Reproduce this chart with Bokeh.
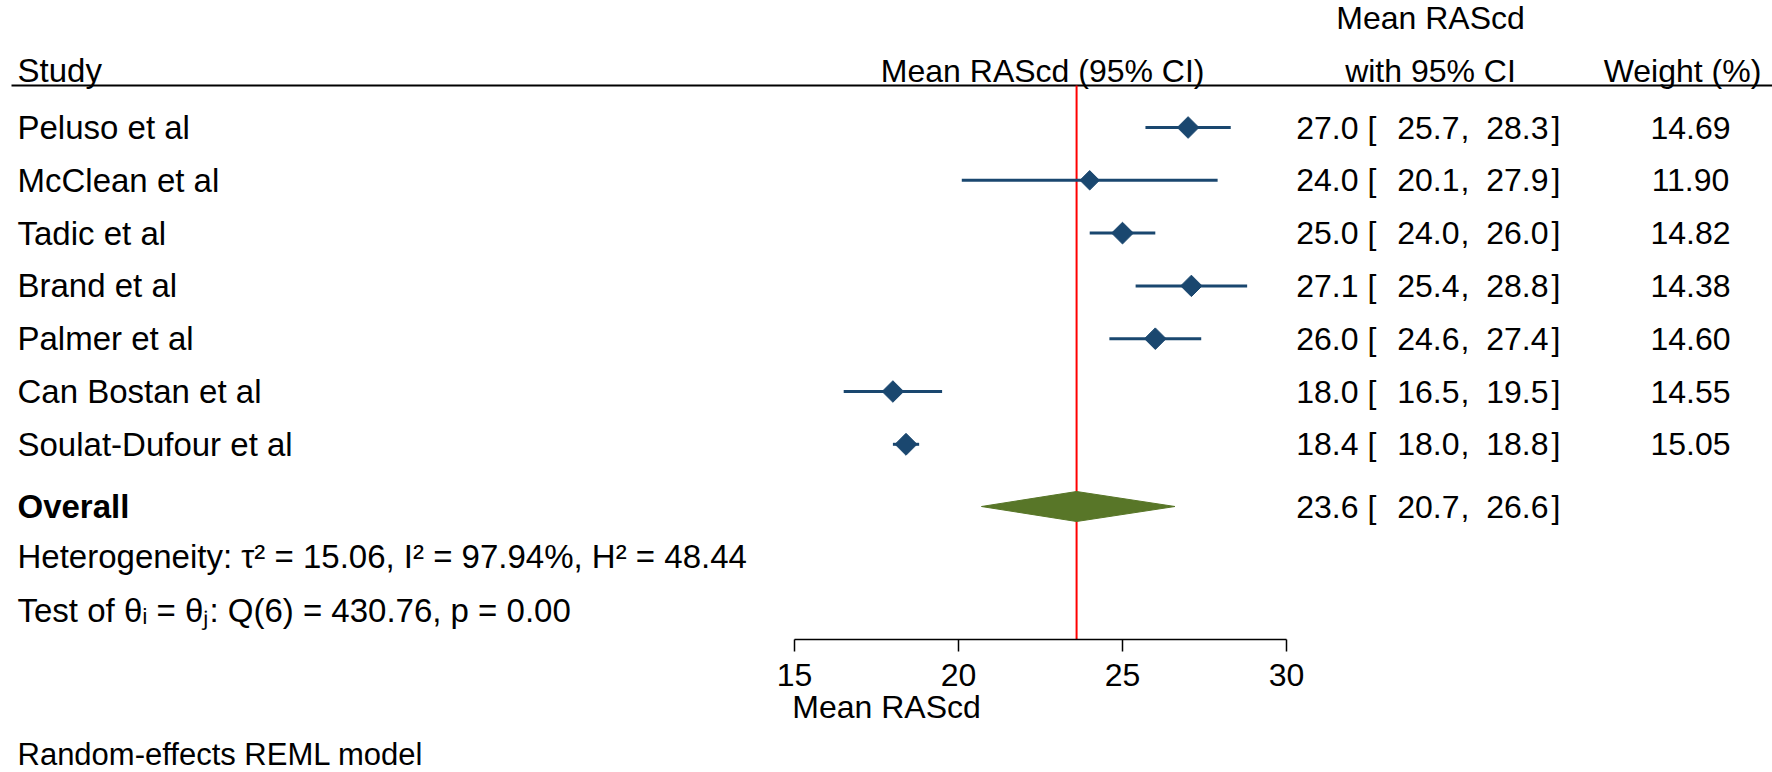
import numpy as np
from bokeh.plotting import figure
from bokeh.layouts import column
from bokeh.models import ColumnDataSource, Range1d, LinearAxis, FixedTicker
from bokeh.core.properties import value
from bokeh.embed import file_html
from bokeh.resources import INLINE

# ---------------- data ----------------
studies = ["Peluso et al", "McClean et al", "Tadic et al", "Brand et al",
           "Palmer et al", "Can Bostan et al", "Soulat-Dufour et al"]
means = [27.0, 24.0, 25.0, 27.1, 26.0, 18.0, 18.4]
lowers = [25.7, 20.1, 24.0, 25.4, 24.6, 16.5, 18.0]
uppers = [28.3, 27.9, 26.0, 28.8, 27.4, 19.5, 18.8]
weights = [14.69, 11.90, 14.82, 14.38, 14.60, 14.55, 15.05]
overall_label = "Overall"
overall_mean = 23.6
overall_lower = 20.7
overall_upper = 26.6
tau2 = 15.06
i2 = 97.94
h2 = 48.44
q_df = 6
q_stat = 430.76
q_p = 0.00
x_ticks = [15, 20, 25, 30]
axis_title = "Mean RAScd"
footer_text = "Random-effects REML model"
hdr_study = "Study"
hdr_plot = "Mean RAScd (95% CI)"
hdr_ci_1 = "Mean RAScd"
hdr_ci_2 = "with 95% CI"
hdr_weight = "Weight (%)"

# ---------------- layout ----------------
W = 1772
TOP_H = 737           # main figure height
FOOT_H = 35           # footer strip height
AXIS_Y = 639          # frame bottom (pixels from top)
PX_PER_UNIT = 32.8
X0_PX = 794           # pixel of first tick
x_start = x_ticks[0] - X0_PX / PX_PER_UNIT
x_end = x_start + W / PX_PER_UNIT


def px(xp):
    return x_start + xp / PX_PER_UNIT


FONT = "Liberation Sans"
FS_LEFT = "33px"
FS = "32px"
FS_FOOT = "31px"
NAVY = "#1a476f"
GREEN = "#587628"

RULE_Y = 85
HDR1_Y = 17
HDR2_Y = 70
FIRST_ROW = 127
ROW_GAP = 52.8
OVERALL_Y = 506
HET_Y = 556
TEST_Y = 610
FOOTER_IN_STRIP = 17

LEFT_X = 17
PLOTHDR_RIGHT = 1204
CI_CENTER = 1430
MEAN_RIGHT = 1358
LBR_LEFT = 1367
LOW_RIGHT = 1459
COMMA_LEFT = 1460
UP_RIGHT = 1548
RBR_LEFT = 1551
WEIGHT_HDR_CENTER = 1682
WEIGHT_VAL_CENTER = 1690

n = len(studies)
row_y = [FIRST_ROW + ROW_GAP * i for i in range(n)]

p = figure(width=W, height=TOP_H, output_backend="svg", toolbar_location=None,
           x_range=Range1d(x_start, x_end), y_range=Range1d(AXIS_Y, 0),
           x_axis_location=None, y_axis_location=None,
           min_border=0, min_border_bottom=TOP_H - AXIS_Y,
           outline_line_color=None, background_fill_color="white",
           border_fill_color="white")
p.grid.visible = False


def txt(fig, xs, ys, texts, align="left", style="normal", size=FS):
    src = ColumnDataSource(dict(x=xs, y=list(ys), t=texts))
    fig.text(x="x", y="y", text="t", source=src, text_font=value(FONT),
             text_font_size=value(size), text_align=align,
             text_baseline="alphabetic", text_color="black",
             text_font_style=style)


# header rule and reference line
p.segment(x0=[px(11)], y0=[RULE_Y], x1=[px(W)], y1=[RULE_Y],
          line_color="black", line_width=2)
p.segment(x0=[overall_mean], y0=[RULE_Y], x1=[overall_mean], y1=[AXIS_Y],
          line_color="#ff0000", line_width=2)

# study CIs and markers
src = ColumnDataSource(dict(m=means, lo=lowers, hi=uppers, y=row_y,
                            s=[15.5 * np.sqrt(w / max(weights)) for w in weights]))
p.segment(x0="lo", y0="y", x1="hi", y1="y", source=src,
          line_color=NAVY, line_width=3)
p.scatter(x="m", y="y", size="s", marker="square", angle=np.pi / 4,
          source=src, fill_color=NAVY, line_color=NAVY)

# overall diamond
p.patch(x=[overall_lower, overall_mean, overall_upper, overall_mean],
        y=[OVERALL_Y, OVERALL_Y - 15, OVERALL_Y, OVERALL_Y + 15],
        fill_color=GREEN, line_color=GREEN)

# headers
txt(p, [px(LEFT_X)], [HDR2_Y], [hdr_study], size=FS_LEFT)
txt(p, [px(PLOTHDR_RIGHT)], [HDR2_Y], [hdr_plot], align="right")
txt(p, [px(CI_CENTER), px(CI_CENTER)], [HDR1_Y, HDR2_Y], [hdr_ci_1, hdr_ci_2], align="center")
txt(p, [px(WEIGHT_HDR_CENTER)], [HDR2_Y], [hdr_weight], align="center")

# study labels
txt(p, [px(LEFT_X)] * n, row_y, studies, size=FS_LEFT)
txt(p, [px(LEFT_X)], [OVERALL_Y], [overall_label], style="bold", size=FS_LEFT)

# CI columns
all_y = row_y + [OVERALL_Y]
all_m = means + [overall_mean]
all_lo = lowers + [overall_lower]
all_hi = uppers + [overall_upper]
k = len(all_y)
txt(p, [px(MEAN_RIGHT)] * k, all_y, [f"{v:.1f}" for v in all_m], align="right")
txt(p, [px(LBR_LEFT)] * k, all_y, ["["] * k)
txt(p, [px(LOW_RIGHT)] * k, all_y, [f"{v:.1f}" for v in all_lo], align="right")
txt(p, [px(COMMA_LEFT)] * k, all_y, [","] * k)
txt(p, [px(UP_RIGHT)] * k, all_y, [f"{v:.1f}" for v in all_hi], align="right")
txt(p, [px(RBR_LEFT)] * k, all_y, ["]"] * k)
txt(p, [px(WEIGHT_VAL_CENTER)] * n, row_y, [f"{w:.2f}" for w in weights], align="center")

# heterogeneity
txt(p, [px(LEFT_X)], [HET_Y],
    [f"Heterogeneity: \u03c4\u00b2 = {tau2:.2f}, I\u00b2 = {i2:.2f}%, H\u00b2 = {h2:.2f}"],
    size=FS_LEFT)
txt(p, [px(LEFT_X)], [TEST_Y],
    [f"Test of \u03b8\u1d62 = \u03b8\u2c7c: Q({q_df}) = {q_stat:.2f}, p = {q_p:.2f}"],
    size=FS_LEFT)

# axis
ax = LinearAxis(bounds=(x_ticks[0], x_ticks[-1]), ticker=FixedTicker(ticks=x_ticks),
                axis_label=axis_title)
ax.minor_tick_line_color = None
ax.major_tick_in = 0
ax.major_tick_out = 12
ax.major_tick_line_width = 1.5
ax.axis_line_width = 1.5
ax.axis_line_color = "black"
ax.major_tick_line_color = "black"
ax.major_label_standoff = 12
ax.major_label_text_font = FONT
ax.major_label_text_font_size = FS
ax.major_label_text_color = "black"
ax.axis_label_text_font = FONT
ax.axis_label_text_font_size = FS
ax.axis_label_text_font_style = "normal"
ax.axis_label_text_color = "black"
ax.axis_label_standoff = 0
p.add_layout(ax, "below")

# footer strip
pf = figure(width=W, height=FOOT_H, output_backend="svg", toolbar_location=None,
            x_range=Range1d(x_start, x_end), y_range=Range1d(FOOT_H, 0),
            x_axis_location=None, y_axis_location=None, min_border=0,
            outline_line_color=None, background_fill_color="white",
            border_fill_color="white")
pf.grid.visible = False
txt(pf, [px(LEFT_X)], [FOOTER_IN_STRIP], [footer_text], size=FS_FOOT)

layout = column(p, pf, spacing=0)
open("out.html", "w").write(file_html(layout, INLINE))
